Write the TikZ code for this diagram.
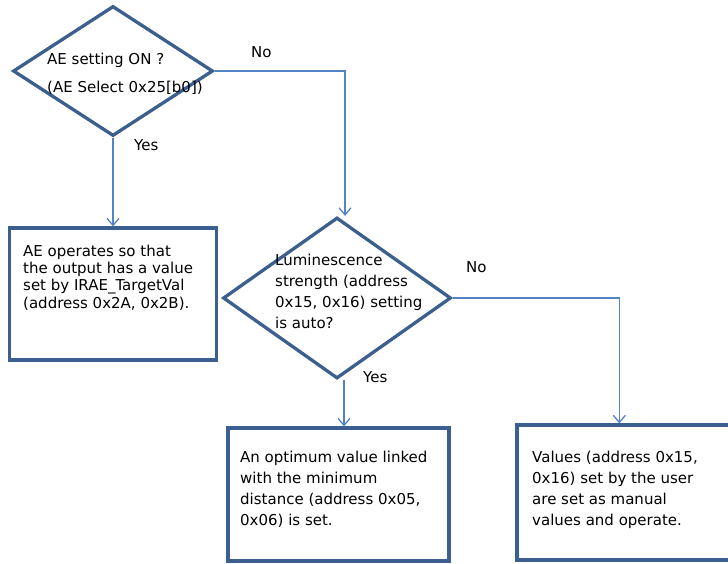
\documentclass[tikz,border=0pt]{standalone}
\usepackage{fontspec}
\setmainfont{DejaVu Sans}
\usetikzlibrary{positioning,shapes.geometric,arrows.meta}
\definecolor{frameblue}{HTML}{3B5F8E}
\definecolor{lineblue}{HTML}{5283C2}

\begin{document}
\begin{tikzpicture}[x=1pt,y=-1pt,
  dec/.style={diamond,draw=frameblue,line width=3.3pt,inner sep=0pt},
  box/.style={draw=frameblue,line width=3.3pt,inner sep=0pt},
  flow/.style={draw=lineblue,line width=1.3pt,-{Straight Barb[length=7pt,width=12pt,line width=1.3pt]}},
  txt/.style={font=\fontsize{15}{21}\selectfont,align=left,inner sep=0pt,anchor=north west},
  lbl/.style={font=\fontsize{15}{18}\selectfont,inner sep=0pt,anchor=base west}]
\useasboundingbox (0,0) rectangle (728,563);
\clip (0,0) rectangle (728,563);
% decisions
\node[dec,minimum width=200pt,minimum height=130pt] (cond) at (113,71) {};
\node[txt] (condtext) at (47,53) {AE setting ON ?\\[7pt](AE Select 0x25[b0])};
\node[dec,minimum width=228pt,minimum height=161pt] (lum) at (337,298) {};
\node[txt] (lumtext) at (275,253.6) {Luminescence\\strength (address\\0x15, 0x16) setting\\is auto?};
% results
\node[box,minimum width=207pt,minimum height=132pt] (ae) at (113,294) {};
\node[txt,font=\fontsize{15}{17.3}\selectfont] (aetext) at (23,244.6)
  {AE operates so that\\the output has a value\\set by IRAE\_TargetVal\\(address 0x2A, 0x2B).};
\node[box,minimum width=221pt,minimum height=133pt] (opt) at (338.5,494.5) {};
\node[txt] (opttext) at (240,450.6)
  {An optimum value linked\\with the minimum\\distance (address 0x05,\\0x06) is set.};
\node[box,minimum width=216pt,minimum height=135pt] (man) at (625,492.5) {};
\node[txt] (mantext) at (532,450.6)
  {Values (address 0x15,\\0x16) set by the user\\are set as manual\\values and operate.};
% connectors
\draw[flow] (cond.south) -- (ae.north);
\draw[flow] (cond.east) -| ([xshift=8pt]lum.north);
\draw[flow] ([xshift=7pt]lum.south) -- ([xshift=7pt]lum.south |- opt.north);
\draw[flow] (lum.east) -| ([xshift=104pt]man.north west);
\node[lbl] (no1) at (251,57) {No};
\node[lbl] (yes1) at (134,150) {Yes};
\node[lbl] (no2) at (466,272) {No};
\node[lbl] (yes2) at (363,382) {Yes};
\end{tikzpicture}
\end{document}
